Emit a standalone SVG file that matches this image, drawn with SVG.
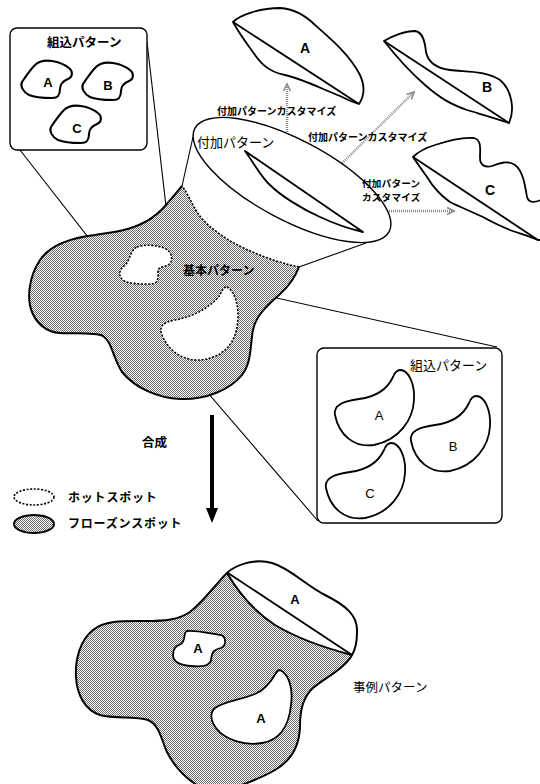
<svg xmlns="http://www.w3.org/2000/svg" width="540" height="784" viewBox="0 0 540 784">
<style>
.ol{fill:none;stroke:#000;stroke-width:2;stroke-linejoin:round}
.wh{fill:#fff;stroke:#000;stroke-width:1.8;stroke-linejoin:round}
.hot{fill:#fff;stroke:#000;stroke-width:1.6;stroke-dasharray:2 1.6}
.gray{fill:url(#stip);stroke:none}
.box{fill:#fff;stroke:#000;stroke-width:1.4}
.ln{stroke:#000;stroke-width:1.1;fill:none}
.cut{stroke:#000;stroke-width:1.8;fill:none}
.cust{stroke:#8a8a8a;stroke-width:2.4;stroke-dasharray:1 1;fill:none}
.jp{font-family:"Noto Sans CJK JP","Noto Sans",sans-serif;fill:#000}
.lt{font-family:"Liberation Sans",Arial,sans-serif;fill:#000;text-anchor:middle}
</style>
<defs>
<pattern id="stip" width="2" height="2" patternUnits="userSpaceOnUse">
<rect width="2" height="2" fill="#fff"/>
<rect width="1" height="1" fill="#6e6e6e"/>
<rect x="1" y="1" width="1" height="1" fill="#6e6e6e"/>
</pattern>
<marker id="carr" markerWidth="10" markerHeight="10" refX="8" refY="5" orient="auto" markerUnits="userSpaceOnUse">
<path d="M1,1.5 L8,5 L1,8.5" fill="none" stroke="#8a8a8a" stroke-width="1.6"/>
</marker>
<path id="blob" d="M-26,0 C-22,-6 -18,-12 -13,-17 C-9,-21 -3,-22 4,-21 C10,-20 16,-18 21,-14 C25,-11 25,-5 20,-3 C15,-1 12,2 12,7 C12,12 11,16 4,16 C-4,16 -12,16 -19,13 C-25,10 -28,4 -26,0 Z"/>
<path id="cres" d="M21,-45 C30,-45 36,-30 35,-15 C34,5 20,25 -5,30 C-25,33 -40,20 -44,0 C-46,-10 -35,-14 -20,-16 C-5,-18 8,-25 14,-38 C16,-43 18,-45 21,-45 Z"/>
</defs>
<rect width="540" height="784" fill="#fff"/>

<g id="connectors">
<line class="ln" x1="20" y1="150" x2="120" y2="278"/>
<line class="ln" x1="147" y1="42" x2="172" y2="258"/>
<line class="ln" x1="227" y1="287" x2="497" y2="347"/>
<line class="ln" x1="177" y1="357" x2="318" y2="521"/>
<line class="ln" x1="193" y1="137" x2="182" y2="186"/>
<line class="ln" x1="366" y1="243" x2="299" y2="267"/>
<line class="cust" x1="287" y1="162" x2="287" y2="84" marker-end="url(#carr)"/>
<line class="cust" x1="318" y1="187" x2="414" y2="92" marker-end="url(#carr)"/>
<line class="cust" x1="343" y1="211" x2="454" y2="211" marker-end="url(#carr)"/>
<line x1="212" y1="415" x2="212" y2="510" stroke="#000" stroke-width="4"/>
<path d="M206,508 L218,508 L212,523 Z" fill="#000"/>
</g>

<g id="builtin-box-top">
<rect class="box" x="10" y="28" width="137" height="122" rx="7"/>
<text class="jp" x="47" y="47" font-size="12.5" font-weight="bold">組込パターン</text>
<use href="#blob" x="48" y="82" class="wh" style="stroke-width:2.1"/>
<use href="#blob" x="109" y="84" class="wh" style="stroke-width:2.1"/>
<use href="#blob" x="77" y="127" class="wh" style="stroke-width:2.1"/>
<text class="lt" x="48" y="87" font-size="13" font-weight="bold">A</text>
<text class="lt" x="108" y="90" font-size="13" font-weight="bold">B</text>
<text class="lt" x="77" y="133" font-size="13" font-weight="bold">C</text>
</g>

<g id="base-pattern">
<path class="gray" d="M182,186 C170,200 160,215 143,223 C130,230 115,232 95,235 C70,238 50,245 40,260 C28,278 27,300 32,312 C36,322 45,332 60,333 C75,334 95,332 103,336 C112,342 113,358 122,372 C135,388 158,398 180,399 C205,400 230,390 242,375 C252,362 250,345 253,330 C256,315 268,305 280,294 C290,285 296,275 299,267 C275,262 250,252 232,242 C215,232 200,220 193,205 C188,195 185,190 182,186 Z"/>
<path class="ol" d="M182,186 C170,200 160,215 143,223 C130,230 115,232 95,235 C70,238 50,245 40,260 C28,278 27,300 32,312 C36,322 45,332 60,333 C75,334 95,332 103,336 C112,342 113,358 122,372 C135,388 158,398 180,399 C205,400 230,390 242,375 C252,362 250,345 253,330 C256,315 268,305 280,294 C290,285 296,275 299,267"/>
<path class="hot" d="M299,267 C275,262 250,252 232,242 C215,232 200,220 193,205 C188,195 185,190 182,186" style="fill:none"/>
<path class="hot" d="M137,247 C145,244 158,245 166,249 C172,252 174,262 168,265 C162,268 158,266 158,272 C158,278 159,284 150,284 C140,284 128,284 123,280 C118,276 119,270 124,266 C130,262 130,250 137,247 Z"/>
<path class="hot" d="M227,287 C236,292 240,310 237,327 C234,345 222,358 200,360 C182,361 168,350 162,335 C158,326 164,322 175,320 C192,317 210,308 220,295 C222,290 224,287 227,287 Z"/>
<text class="jp" x="183" y="275" font-size="12" font-weight="bold">基本パターン</text>
</g>

<g id="extra-pattern-cone">
<ellipse class="wh" cx="292" cy="180" rx="110" ry="40" transform="rotate(28 292 180)" style="stroke-width:1.4"/>
<path class="wh" d="M245,151 C255,165 262,178 270,185 C280,195 300,208 320,217 C335,224 350,229 363,232 L245,151 Z"/>
<text class="jp" x="197" y="147" font-size="13">付加パターン</text>
</g>

<g id="custom-A">
<path class="wh" d="M233,22 C240,15 260,8 280,8 C295,9 305,15 315,25 C330,38 350,55 360,75 C366,88 363,98 359,104 C352,102 346,99 340,96 C320,88 300,78 285,75 C270,72 262,65 255,55 C248,45 240,35 233,22 Z"/>
<line class="cut" x1="233" y1="22" x2="359" y2="104"/>
<text class="lt" x="305" y="53" font-size="14" font-weight="bold">A</text>
</g>
<g id="custom-B">
<path class="wh" d="M384,41 C392,36 405,31 415,31 C423,32 425,42 426,52 C428,62 435,68 450,70 C465,72 485,70 500,80 C512,90 515,110 509,123 C495,118 480,114 467,110 C450,104 440,98 425,85 C410,72 395,55 384,41 Z"/>
<line class="cut" x1="384" y1="41" x2="509" y2="123"/>
<text class="lt" x="487" y="92" font-size="14" font-weight="bold">B</text>
</g>
<g id="custom-C">
<path class="wh" d="M413,157 C418,152 425,148 435,145 C450,140 465,137 474,138 C482,140 480,150 480,158 C480,165 485,168 492,166 C500,163 508,160 515,165 C523,171 525,185 527,197 C529,204 536,202 541,200 L548,235 C545,238 541,240 538,240 C528,236 518,233 510,230 C498,225 490,221 483,217 C470,211 460,207 450,202 C440,195 433,187 427,177 C422,170 417,163 413,157 Z"/>
<line class="cut" x1="413" y1="157" x2="538" y2="240"/>
<text class="lt" x="490" y="195" font-size="14" font-weight="bold">C</text>
</g>

<g id="custom-labels">
<text class="jp" x="217" y="115" font-size="10" font-weight="bold">付加パターンカスタマイズ</text>
<text class="jp" x="308" y="141" font-size="10" font-weight="bold">付加パターンカスタマイズ</text>
<text class="jp" x="362" y="187" font-size="9.6" font-weight="bold" letter-spacing="0.2">付加パターン</text>
<text class="jp" x="362" y="201" font-size="9.6" font-weight="bold" letter-spacing="0.2">カスタマイズ</text>
</g>

<g id="builtin-box-bottom">
<rect class="box" x="317" y="348" width="185" height="175" rx="7"/>
<text class="jp" x="410" y="370" font-size="13">組込パターン</text>
<use href="#cres" x="379" y="415" class="wh"/>
<use href="#cres" x="455" y="441" class="wh"/>
<use href="#cres" x="370" y="488" class="wh"/>
<text class="lt" x="379" y="420" font-size="13">A</text>
<text class="lt" x="453" y="451" font-size="13">B</text>
<text class="lt" x="370" y="498" font-size="13">C</text>
</g>

<g id="compose-label">
<text class="jp" x="142" y="447" font-size="12.5" font-weight="bold">合成</text>
</g>

<g id="legend">
<ellipse cx="34" cy="497" rx="20" ry="8" class="hot"/>
<text class="jp" x="68" y="502" font-size="12" font-weight="bold" letter-spacing="0.8">ホットスポット</text>
<ellipse cx="34" cy="524" rx="20" ry="9" fill="url(#stip)" stroke="#000" stroke-width="2"/>
<text class="jp" x="68" y="528" font-size="12" font-weight="bold" letter-spacing="0.8">フローズンスポット</text>
</g>

<g id="instance-pattern">
<path class="gray" d="M227,573 C240,595 255,612 275,625 C300,640 325,648 352,655 C345,668 325,678 313,688 C303,697 300,710 300,725 C300,745 292,760 275,770 C262,778 245,784 228,790 L205,790 C190,782 176,770 167,752 C162,742 160,725 148,720 C135,716 115,719 100,715 C85,710 77,695 76,677 C75,660 80,640 93,630 C105,620 125,621 145,621 C165,621 178,620 190,612 C205,600 215,585 227,573 Z"/>
<path class="ol" d="M352,655 C345,668 325,678 313,688 C303,697 300,710 300,725 C300,745 292,760 275,770 C262,778 245,784 228,790 M205,790 C190,782 176,770 167,752 C162,742 160,725 148,720 C135,716 115,719 100,715 C85,710 77,695 76,677 C75,660 80,640 93,630 C105,620 125,621 145,621 C165,621 178,620 190,612 C205,600 215,585 227,573"/>
<path class="wh" style="stroke-width:2" d="M227,573 C235,565 255,558 272,563 C290,568 305,585 325,595 C345,605 358,615 357,632 C357,642 355,650 352,655 C325,648 300,640 275,625 C255,612 240,595 227,573 Z"/>
<line class="cut" x1="228" y1="573" x2="352" y2="655"/>
<path class="wh" d="M187,631 C197,630 212,634 221,635 C226,637 227,645 221,648 C213,650 212,652 211,660 C210,667 200,667 190,666 C180,665 173,662 173,655 C173,648 176,646 181,644 C186,641 183,632 187,631 Z"/>
<path class="wh" d="M280,670 C290,675 293,690 291,705 C289,725 280,740 262,743 C245,746 225,740 216,728 C210,720 210,712 215,708 C222,702 240,700 255,694 C265,690 272,680 276,673 C277,671 278,670 280,670 Z"/>
<text class="lt" x="295" y="604" font-size="13" font-weight="bold">A</text>
<text class="lt" x="198" y="653" font-size="13" font-weight="bold">A</text>
<text class="lt" x="261" y="723" font-size="13" font-weight="bold">A</text>
<text class="jp" x="353" y="692" font-size="12.5">事例パターン</text>
</g>
</svg>
